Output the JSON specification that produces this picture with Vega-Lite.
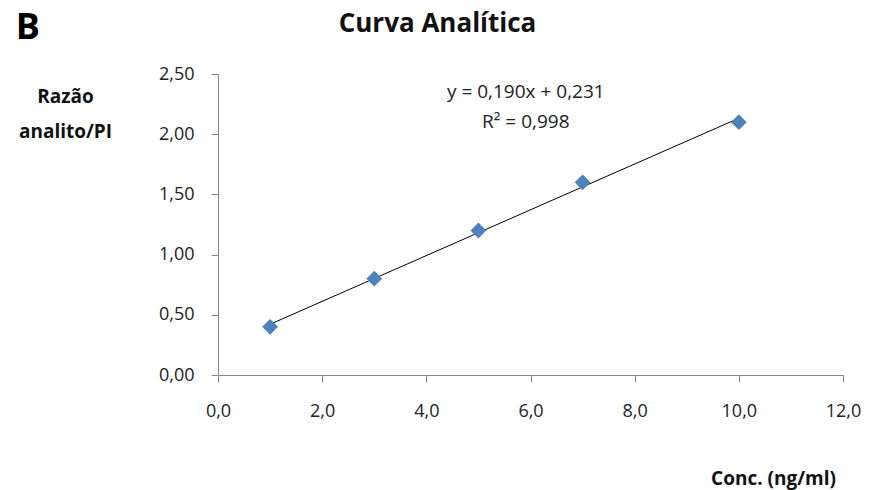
{
  "$schema": "https://vega.github.io/schema/vega-lite/v6.json",
  "width": 625,
  "height": 301,
  "autosize": "none",
  "padding": {"left": 218, "top": 74, "right": 26, "bottom": 115},
  "background": "white",
  "config": {
    "locale": {"number": {"decimal": ",", "thousands": ".", "grouping": [3], "currency": ["", ""]}},
    "view": {"stroke": null},
    "font": "Open Sans",
    "axis": {
      "grid": false,
      "domainColor": "#868686",
      "tickColor": "#868686",
      "tickSize": 7,
      "labelColor": "#222222",
      "labelFont": "Open Sans",
      "labelFontSize": 18,
      "titleFont": "Open Sans",
      "titleFontWeight": "bold",
      "titleFontSize": 19,
      "titleColor": "#111111"
    }
  },
  "title": {
    "text": "Curva Analítica",
    "font": "Open Sans",
    "fontSize": 26,
    "fontWeight": "bold",
    "color": "#111111",
    "anchor": "middle",
    "frame": "group",
    "baseline": "alphabetic",
    "dx": -93,
    "offset": -48
  },
  "datasets": {
    "pts": [
      {"conc": 1, "razao": 0.40},
      {"conc": 3, "razao": 0.80},
      {"conc": 5, "razao": 1.20},
      {"conc": 7, "razao": 1.60},
      {"conc": 10, "razao": 2.10}
    ],
    "notes": [
      {"conc": 5.91, "razao": 2.30, "label": "y = 0,190x + 0,231"},
      {"conc": 5.91, "razao": 2.05, "label": "R² = 0,998"}
    ],
    "tag": [
      {"conc": -3.65, "razao": 2.88, "label": "B"}
    ]
  },
  "layer": [
    {
      "data": {"name": "pts"},
      "transform": [{"regression": "razao", "on": "conc"}],
      "mark": {"type": "line", "color": "#000000", "strokeWidth": 1},
      "encoding": {
        "x": {"field": "conc", "type": "quantitative"},
        "y": {"field": "razao", "type": "quantitative"}
      }
    },
    {
      "data": {"name": "pts"},
      "mark": {"type": "point", "shape": "diamond", "filled": true, "color": "#4F81BD", "opacity": 1, "size": 250},
      "encoding": {
        "x": {
          "field": "conc", "type": "quantitative",
          "scale": {"domain": [0, 12], "nice": false, "zero": true},
          "axis": {
            "values": [0, 2, 4, 6, 8, 10, 12],
            "format": ".1f",
            "labelPadding": 20,
            "title": "Conc. (ng/ml)",
            "titleAngle": 0,
            "titleX": 555,
            "titleY": 109,
            "titleAlign": "center",
            "titleBaseline": "alphabetic",
            "labelFlush": false
          }
        },
        "y": {
          "field": "razao", "type": "quantitative",
          "scale": {"domain": [0, 2.5], "nice": false},
          "axis": {
            "values": [0, 0.5, 1, 1.5, 2, 2.5],
            "format": ".2f",
            "labelPadding": 17,
            "title": ["Razão", "analito/PI"],
            "titleAngle": 0,
            "titleX": -153,
            "titleY": 28,
            "titleAlign": "center",
            "titleBaseline": "alphabetic",
            "titleLineHeight": 35,
            "labelFlush": false
          }
        }
      }
    },
    {
      "data": {"name": "notes"},
      "mark": {"type": "text", "fontSize": 19, "font": "Open Sans", "color": "#222222", "align": "center", "baseline": "alphabetic"},
      "encoding": {
        "x": {"field": "conc", "type": "quantitative"},
        "y": {"field": "razao", "type": "quantitative"},
        "text": {"field": "label"}
      }
    },
    {
      "data": {"name": "tag"},
      "mark": {"type": "text", "fontSize": 36, "font": "Open Sans", "fontWeight": "bold", "color": "#000000", "align": "center", "baseline": "middle"},
      "encoding": {
        "x": {"field": "conc", "type": "quantitative"},
        "y": {"field": "razao", "type": "quantitative"},
        "text": {"field": "label"}
      }
    }
  ]
}
